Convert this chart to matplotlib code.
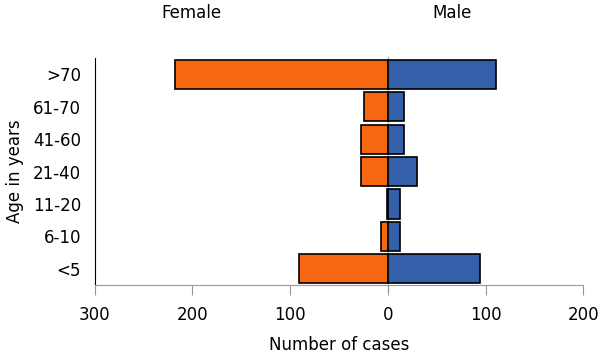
import matplotlib.pyplot as plt
import numpy as np

# age groups, bottom to top
ages = ["<5", "6-10", "11-20", "21-40", "41-60", "61-70", ">70"]
female = [91, 7, 1, 27, 27, 24, 218]
male = [94, 12, 12, 30, 17, 17, 111]

orange = "#F76611"
blue = "#3360A9"

fig = plt.figure(figsize=(6, 3.55), dpi=100)
ax = fig.add_axes([0.158, 0.197, 0.814, 0.639])

y = np.arange(len(ages))
# gray value axis at zero, mostly hidden behind the bars
ax.axvline(0, ymin=-0.025, ymax=1.005, color="#bbbbbb", linewidth=1, zorder=1, clip_on=False)
ax.barh(y, -np.array(female), height=0.9, color=orange, edgecolor="black", linewidth=1.2, zorder=2)
ax.barh(y, male, height=0.9, color=blue, edgecolor="black", linewidth=1.2, zorder=2)

ax.set_xlim(-300, 200)
ax.set_ylim(-0.5, 6.5)
ax.set_xticks([-300, -200, -100, 0, 100, 200])
ax.set_xticklabels(["300", "200", "100", "0", "100", "200"])
ax.set_yticks(y)
ax.set_yticklabels(ages)

ax.tick_params(axis="x", labelsize=12, color="#999999", length=7, pad=8)
ax.tick_params(axis="y", labelsize=12, length=0, pad=10)

ax.spines["top"].set_visible(False)
ax.spines["right"].set_visible(False)
ax.spines["bottom"].set_color("#999999")
ax.spines["left"].set_color("black")

ax.set_xlabel("Number of cases", fontsize=12, labelpad=9)
ax.set_ylabel("Age in years", fontsize=12, labelpad=6)

fig.text(191 / 600, 1 - 13 / 355, "Female", fontsize=12, ha="center", va="center")
fig.text(452 / 600, 1 - 13 / 355, "Male", fontsize=12, ha="center", va="center")

fig.savefig("out.png", dpi=100)
